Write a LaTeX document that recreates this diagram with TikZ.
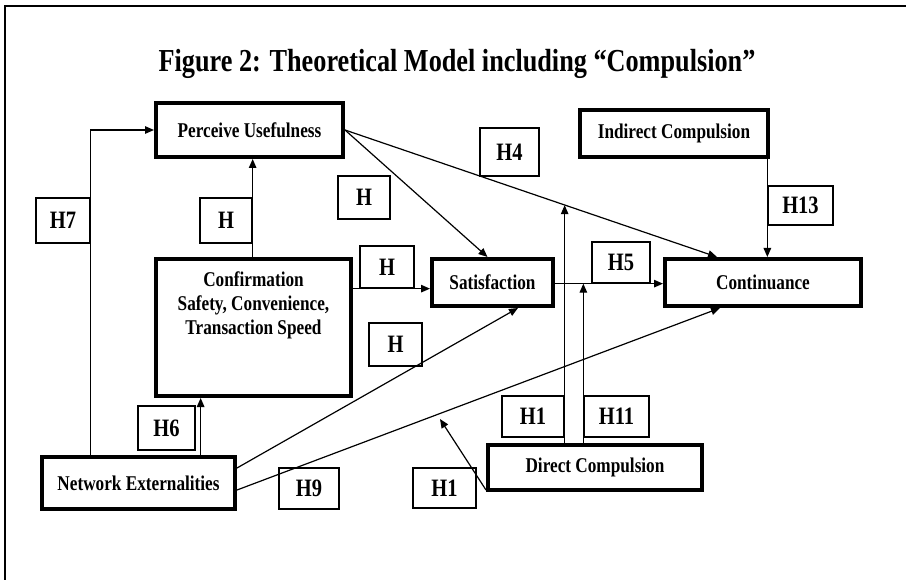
\documentclass[tikz,border=0pt]{standalone}
\usepackage{fontspec}
\setmainfont{Liberation Serif}[FakeStretch=0.82]
\usetikzlibrary{arrows.meta,calc}
\begin{document}
\begin{tikzpicture}[x=1pt,y=-1pt,
  bigbox/.style={draw,line width=4pt,font=\fontsize{21}{24}\selectfont\bfseries,inner sep=0pt},
  hbox/.style={draw,line width=1.3pt,font=\fontsize{25}{28}\selectfont\bfseries,inner sep=0pt},
  arr/.style={line width=1.2pt,-{Triangle[length=9pt,width=7.5pt]}},
  ln/.style={line width=1.2pt}]
\useasboundingbox (0,0) rectangle (906,580);
\draw[line width=1.8pt] (5,580) -- (5,6) -- (906,6);
% title
\node[anchor=base,font=\fontsize{32}{36}\selectfont\bfseries,inner sep=0pt] (title) at (457,72) {Figure 2: Theoretical Model including “Compulsion”};
% main boxes
\node[bigbox,minimum width=187pt,minimum height=54pt] (pu) at (249.5,130) {Perceive Usefulness};
\node[bigbox,minimum width=188pt,minimum height=47pt] (ic) at (674,133.5) {Indirect Compulsion};
\node[bigbox,minimum width=121pt,minimum height=47pt] (sat) at (492.5,282.5) {Satisfaction};
\node[bigbox,minimum width=196pt,minimum height=47pt] (cont) at (763,282.5) {Continuance};
\node[bigbox,minimum width=195pt,minimum height=137pt,
  label={[anchor=north,yshift=-15pt,align=center,inner sep=0pt,font=\fontsize{21}{24}\selectfont\bfseries]north:Confirmation\\Safety, Convenience,\\Transaction Speed}] (conf) at (253.5,327.5) {};
\node[bigbox,minimum width=193pt,minimum height=52pt] (net) at (138.5,483) {Network Externalities};
\node[bigbox,minimum width=214pt,minimum height=45pt] (dc) at (595,467.5) {Direct Compulsion};
% hypothesis labels
\node[hbox,minimum width=54pt,minimum height=45pt] (h7) at (63,220.5) {H7};
\node[hbox,minimum width=52pt,minimum height=45pt] (hpu) at (226,220.5) {H};
\node[hbox,minimum width=52pt,minimum height=43pt] (hps) at (364,197.5) {H};
\node[hbox,minimum width=54pt,minimum height=42pt] (hcs) at (387,267) {H};
\node[hbox,minimum width=53pt,minimum height=43pt] (hns) at (395.5,344.5) {H};
\node[hbox,minimum width=59pt,minimum height=48pt] (h4) at (509.5,152) {H4};
\node[hbox,minimum width=65pt,minimum height=39pt] (h13) at (800.5,205.5) {H13};
\node[hbox,minimum width=58pt,minimum height=41pt] (h5) at (621,262.5) {H5};
\node[hbox,minimum width=57pt,minimum height=44pt] (h6) at (166.5,428) {H6};
\node[hbox,minimum width=60pt,minimum height=41pt] (h9) at (309,488.5) {H9};
\node[hbox,minimum width=63pt,minimum height=40pt] (h1l) at (444.5,488) {H1};
\node[hbox,minimum width=62pt,minimum height=41pt] (h1u) at (533,416.5) {H1};
\node[hbox,minimum width=65pt,minimum height=41pt] (h11) at (616.5,416.5) {H11};
% connectors
\draw[arr] (net.north -| h7.east) |- (pu.west);
\draw[arr] (conf.north -| hpu.east) -- (pu.south -| hpu.east);
\coordinate (h6x) at ($(h6.east)+(5,0)$);
\draw[arr] (net.north -| h6x) -- (conf.south -| h6x);
\draw[arr] (conf.east |- hcs.south) -- (sat.west |- hcs.south);
\draw[arr] (sat.east |- h5.south) -- (cont.west |- h5.south);
\draw[arr] (pu.east) -- ([xshift=-5pt]sat.north);
\draw[arr] (pu.east) -- ([xshift=-46pt]cont.north) coordinate[pos=0.592] (m1);
\draw[arr] ([yshift=15pt]net.east) -- ([xshift=25.5pt]sat.south);
\draw[arr] ([yshift=-7pt]net.east) -- ([xshift=-43pt]cont.south);
\draw[arr] (dc.north -| h1u.east) -- (h1u.east |- m1);
\draw[arr] (dc.north -| h11.west) -- (h11.west |- h5.south);
\coordinate (dtip) at (440,419);
\draw[arr] ([yshift=2pt]dc.south west) -- (dtip);
\draw[arr] (ic.south -| h13.west) -- (cont.north -| h13.west);
\end{tikzpicture}
\end{document}
